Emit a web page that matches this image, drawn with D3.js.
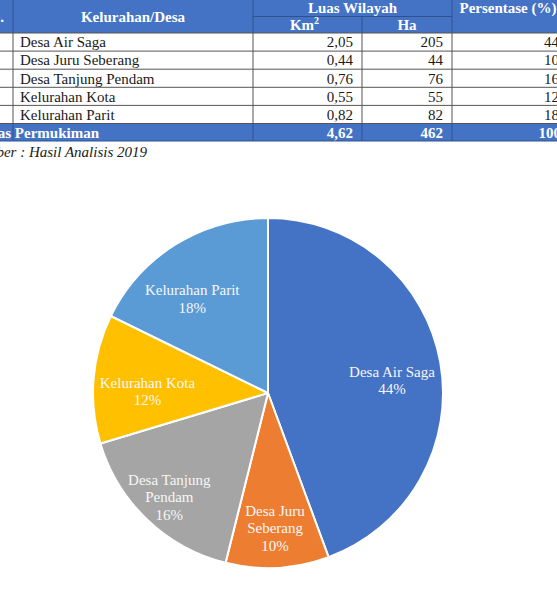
<!DOCTYPE html>
<html>
<head>
<meta charset="utf-8">
<script src="https://cdn.jsdelivr.net/npm/d3@7"></script>
<style>
  body { margin: 0; background: #fff; }
  svg { display: block; font-family: "Liberation Serif", "Times New Roman", serif; }
</style>
</head>
<body>
<script>
// data
const desa = ["Desa Air Saga", "Desa Juru Seberang", "Desa Tanjung Pendam", "Kelurahan Kota", "Kelurahan Parit"];
const luasKm = ["2,05", "0,44", "0,76", "0,55", "0,82"];
const luasHa = [205, 44, 76, 55, 82];
const persen = [44, 10, 16, 12, 18];
const totalKm = "4,62";
const totalHa = 462;
const totalPersen = 100;
const pieLabels = [["Desa Air Saga"], ["Desa Juru", "Seberang"], ["Desa Tanjung", "Pendam"], ["Kelurahan Kota"], ["Kelurahan Parit"]];
const colors = ["#4472C4", "#ED7D31", "#A5A5A5", "#FFC000", "#5B9BD5"];

// layout tweaks for label placement (Excel "best fit")
const labelNudge = [[-4, 10], [0, 5], [-9, 10], [9, 9], [-7, 16]];

const W = 557, H = 601;
const svg = d3.select("body").append("svg").attr("width", W).attr("height", H);

// ---------- table ----------
const blue = "#4472C4";
const colX = [-40, 13, 253, 362, 452, 570];
const headerTop = -2, headerMid = 16.5, headerBot = 33;
const rowH = 18.1;
const rowY = d3.range(desa.length + 1).map(i => headerBot + i * rowH);
const tableBot = rowY[desa.length] + 17.5;
const fs = 15;

const table = svg.append("g");

// header
table.append("rect").attr("x", colX[0]).attr("y", headerTop)
  .attr("width", colX[5] - colX[0]).attr("height", headerBot - headerTop).attr("fill", blue);
// total row
table.append("rect").attr("x", colX[0]).attr("y", rowY[desa.length])
  .attr("width", colX[5] - colX[0]).attr("height", tableBot - rowY[desa.length]).attr("fill", blue);

// header lines
const hdrLine = "#2F528F";
[colX[1], colX[2], colX[4]].forEach(x => {
  table.append("line").attr("x1", x).attr("x2", x).attr("y1", headerTop).attr("y2", headerBot)
    .attr("stroke", hdrLine).attr("stroke-width", 1);
});
table.append("line").attr("x1", colX[3]).attr("x2", colX[3]).attr("y1", headerMid).attr("y2", headerBot)
  .attr("stroke", hdrLine).attr("stroke-width", 1);
table.append("line").attr("x1", colX[2]).attr("x2", colX[4]).attr("y1", headerMid).attr("y2", headerMid)
  .attr("stroke", hdrLine).attr("stroke-width", 1.2);

// body grid
const grid = "#555";
rowY.forEach(y => {
  table.append("line").attr("x1", colX[0]).attr("x2", colX[5]).attr("y1", y).attr("y2", y)
    .attr("stroke", grid).attr("stroke-width", 1);
});
[colX[1], colX[2], colX[3], colX[4]].forEach(x => {
  table.append("line").attr("x1", x).attr("x2", x).attr("y1", headerBot).attr("y2", rowY[desa.length])
    .attr("stroke", grid).attr("stroke-width", 1);
});
[colX[1], colX[2], colX[3], colX[4]].forEach(x => {
  table.append("line").attr("x1", x).attr("x2", x).attr("y1", rowY[desa.length]).attr("y2", tableBot)
    .attr("stroke", hdrLine).attr("stroke-width", 1);
});
table.append("line").attr("x1", colX[0]).attr("x2", colX[5]).attr("y1", tableBot).attr("y2", tableBot)
  .attr("stroke", hdrLine).attr("stroke-width", 1);

// header text
const hdr = (t, x, y) => table.append("text").attr("x", x).attr("y", y).attr("dy", "0.35em")
  .attr("text-anchor", "middle").attr("fill", "#fff").attr("font-weight", "bold").attr("font-size", fs).text(t);
table.append("text").attr("x", 4).attr("y", 17).attr("dy", "0.35em").attr("text-anchor", "end")
  .attr("fill", "#fff").attr("font-weight", "bold").attr("font-size", fs).text("No.");
hdr("Kelurahan/Desa", (colX[1] + colX[2]) / 2, 17);
hdr("Luas Wilayah", (colX[2] + colX[4]) / 2, 7.5);
const km = hdr("Km", (colX[2] + colX[3]) / 2 - 3, 25);
km.append("tspan").attr("font-size", 10).attr("dy", "-0.6em").text("2");
hdr("Ha", (colX[3] + colX[4]) / 2, 25);
hdr("Persentase (%)", 508, 7.5);

// body text
const body = table.append("g").attr("font-size", fs).attr("fill", "#1a1a1a");
desa.forEach((d, i) => {
  const cy = rowY[i] + rowH / 2;
  body.append("text").attr("x", colX[1] + 7).attr("y", cy).attr("dy", "0.35em").text(d);
  body.append("text").attr("x", colX[3] - 9).attr("y", cy).attr("dy", "0.35em").attr("text-anchor", "end").text(luasKm[i]);
  body.append("text").attr("x", colX[4] - 9).attr("y", cy).attr("dy", "0.35em").attr("text-anchor", "end").text(luasHa[i]);
  body.append("text").attr("x", 559).attr("y", cy).attr("dy", "0.35em").attr("text-anchor", "end").text(persen[i]);
});

// total row text
const tcy = (rowY[desa.length] + tableBot) / 2;
const tot = table.append("g").attr("font-size", fs).attr("font-weight", "bold").attr("fill", "#fff");
tot.append("text").attr("x", 99).attr("y", tcy).attr("dy", "0.35em").attr("text-anchor", "end").text("Luas Permukiman");
tot.append("text").attr("x", colX[3] - 9).attr("y", tcy).attr("dy", "0.35em").attr("text-anchor", "end").text(totalKm);
tot.append("text").attr("x", colX[4] - 9).attr("y", tcy).attr("dy", "0.35em").attr("text-anchor", "end").text(totalHa);
tot.append("text").attr("x", 561).attr("y", tcy).attr("dy", "0.35em").attr("text-anchor", "end").text(totalPersen);

// source
svg.append("text").attr("x", 147).attr("y", 152).attr("dy", "0.35em").attr("text-anchor", "end")
  .attr("font-size", fs).attr("font-style", "italic").attr("fill", "#1a1a1a")
  .text("Sumber : Hasil Analisis 2019");

// ---------- pie ----------
const cx = 268, cy = 393, R = 175;
const pie = d3.pie().sort(null).value(d => d);
const arcs = pie(luasHa);
const arc = d3.arc().innerRadius(0).outerRadius(R);
const labelArc = d3.arc().innerRadius(130).outerRadius(130);
const total = d3.sum(luasHa);

const g = svg.append("g").attr("transform", `translate(${cx},${cy})`);
g.selectAll("path").data(arcs).join("path")
  .attr("d", arc)
  .attr("fill", (d, i) => colors[i])
  .attr("stroke", "#fff")
  .attr("stroke-width", 2)
  .attr("stroke-linejoin", "round");

const lineH = 17.5;
g.selectAll("text.lbl").data(arcs).join("text")
  .attr("class", "lbl")
  .attr("font-size", 15)
  .attr("fill", "#f7f7f7")
  .attr("text-anchor", "middle")
  .each(function (d, i) {
    const [x, y] = labelArc.centroid(d);
    const lines = pieLabels[i].concat([Math.round(d.value / total * 100) + "%"]);
    const px = x + labelNudge[i][0];
    const py = y + labelNudge[i][1] - (lines.length - 1) * lineH / 2;
    const t = d3.select(this);
    lines.forEach((s, k) => {
      t.append("tspan").attr("x", px).attr("y", py + k * lineH).attr("dy", "0.35em").text(s);
    });
  });
</script>
</body>
</html>
